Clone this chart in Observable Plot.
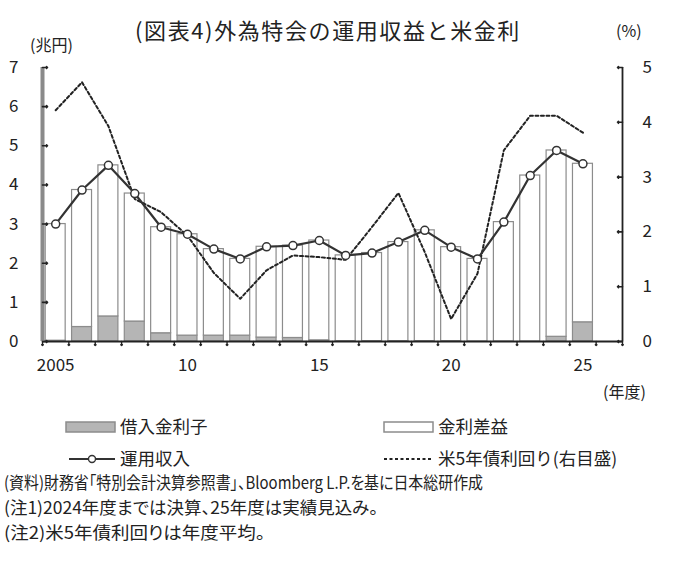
<!DOCTYPE html>
<html><head><meta charset="utf-8">
<script src="https://cdn.jsdelivr.net/npm/d3@7"></script>
<script src="https://cdn.jsdelivr.net/npm/@observablehq/plot@0.6"></script>
<style>
body{margin:0;background:#fff;font-family:"Noto Sans CJK JP","Noto Sans",sans-serif;color:#222;}
#wrap{position:relative;width:680px;}
.abs{position:absolute;white-space:nowrap;line-height:1;}
.note{font-feature-settings:"palt";transform-origin:0 50%;}
#chart svg{display:block;}
</style></head><body>
<div id="wrap">
  <div style="position:relative;height:50px;">
    <div class="abs" style="left:0;width:656px;text-align:center;top:18px;font-size:22px;letter-spacing:1.6px;">(図表4)外為特会の運用収益と米金利</div>
    <div class="abs" style="left:30px;top:36px;font-size:16px;">(兆円)</div>
    <div class="abs" style="left:616px;top:22px;font-size:16px;">(%)</div>
  </div>
  <div id="chart"></div>
  <div id="legend" style="position:relative;height:164px;"></div>
</div>
<script>
// ---- data ----
const years = [2005,2006,2007,2008,2009,2010,2011,2012,2013,2014,2015,2016,2017,2018,2019,2020,2021,2022,2023,2024,2025];
// 運用収入 (兆円)
const unyo = [3.00,3.87,4.50,3.78,2.92,2.74,2.36,2.11,2.42,2.45,2.58,2.20,2.26,2.54,2.84,2.41,2.11,3.05,4.24,4.88,4.54];
// 借入金利子 (兆円)
const kariire = [0.02,0.37,0.64,0.51,0.21,0.15,0.15,0.15,0.10,0.09,0.03,0.01,0.01,0.01,0.01,0.01,0.00,0.00,0.00,0.12,0.49];
// 米5年債利回り (%)
const yield5 = [4.22,4.73,3.93,2.60,2.36,1.93,1.25,0.78,1.30,1.57,1.54,1.49,2.09,2.71,1.63,0.41,1.24,3.49,4.12,4.12,3.81];
const xTickYears = [2005,2010,2015,2020,2025];
const xTickLabels = ["2005","10","15","20","25"];
const leftTicks = [0,1,2,3,4,5,6,7];
const rightTicks = [0,1,2,3,4,5];
const leftMax = 7, rightMax = 5;
const ratio = leftMax / rightMax;

const rows = years.map((year, i) => ({year, unyo: unyo[i], kariire: kariire[i], yld: yield5[i] * ratio}));
const xDomain = [years[0] - 0.5, years[years.length - 1] + 1.5];
const bounds = d3.range(xDomain[0], xDomain[1] + 0.01, 1);

const font = '"Noto Sans CJK JP","Noto Sans",sans-serif';
const chart = Plot.plot({
  width: 680, height: 355,
  marginTop: 17, marginBottom: 64, marginLeft: 42, marginRight: 58,
  x: {type: "linear", domain: xDomain},
  y: {domain: [0, leftMax]},
  style: {fontFamily: font, fontSize: "17px", color: "#222", background: "white"},
  marks: [
    Plot.rectY(rows, {x1: d => d.year - 0.5, x2: d => d.year + 0.5, y1: 0, y2: "kariire", fill: "#b5b5b5", stroke: "#8c8c8c", strokeWidth: 1.2, insetLeft: 3.2, insetRight: 3.2}),
    Plot.rectY(rows, {x1: d => d.year - 0.5, x2: d => d.year + 0.5, y1: "kariire", y2: "unyo", fill: "white", stroke: "#8c8c8c", strokeWidth: 1.2, insetLeft: 3.2, insetRight: 3.2}),
    Plot.ruleY([0], {stroke: "#222", strokeWidth: 1.8}),
    Plot.ruleX([xDomain[0]], {stroke: "#8a8a8a", strokeWidth: 4}),
    Plot.ruleX([xDomain[1]], {stroke: "#222", strokeWidth: 1.8}),
    Plot.vector(leftTicks, {y: d => d, frameAnchor: "left", length: 5, rotate: 90, anchor: "start", stroke: "#222", strokeWidth: 1.6}),
    Plot.vector(rightTicks, {y: d => d * ratio, frameAnchor: "right", length: 5, rotate: 270, anchor: "start", stroke: "#222", strokeWidth: 1.6}),
    Plot.vector(bounds, {x: d => d, frameAnchor: "bottom", length: 4, rotate: 180, anchor: "start", stroke: "#222", strokeWidth: 1.4}),
    Plot.axisY(leftTicks, {anchor: "left", tickSize: 0, tickPadding: 24, label: null, fontSize: 17}),
    Plot.axisY(rightTicks.map(d => d * ratio), {anchor: "right", tickSize: 0, tickPadding: 20, label: null, fontSize: 17, tickFormat: d => String(Math.round(d / ratio))}),
    Plot.axisX(xTickYears, {anchor: "bottom", tickSize: 0, tickPadding: 17, label: null, fontSize: 17, tickFormat: d => xTickLabels[xTickYears.indexOf(d)]}),
    Plot.line(rows, {x: "year", y: "yld", stroke: "#222", strokeWidth: 2, strokeDasharray: "3,2.5"}),
    Plot.line(rows, {x: "year", y: "unyo", stroke: "#333", strokeWidth: 2.2}),
    Plot.dot(rows, {x: "year", y: "unyo", r: 4, fill: "white", stroke: "#333", strokeWidth: 1.5}),
    Plot.text(["(年度)"], {text: d => d, frameAnchor: "bottom-right", dy: 56, dx: 2, fontSize: 16, textAnchor: "middle"})
  ]
});
document.getElementById("chart").append(chart);

// ---- legend & notes ----
const legendItems = [
  {label: "借入金利子", kind: "gray", left: 65, row: 0},
  {label: "金利差益", kind: "white", left: 383, row: 0},
  {label: "運用収入", kind: "line", left: 65, row: 1},
  {label: "米5年債利回り(右目盛)", kind: "dash", left: 383, row: 1}
];
const notes = [
  "(資料)財務省「特別会計決算参照書」、Bloomberg L.P.を基に日本総研作成",
  "(注1)2024年度までは決算、25年度は実績見込み。",
  "(注2)米5年債利回りは年度平均。"
];
const noteWidths = [479, 374, 261];
const lg = document.getElementById("legend");
const rowCenters = [21, 53];
legendItems.forEach(it => {
  const cy = rowCenters[it.row];
  let sw;
  if (it.kind === "gray" || it.kind === "white") {
    sw = `<svg width="52" height="14"><rect x="1" y="2" width="49" height="10" fill="${it.kind === "gray" ? "#b5b5b5" : "white"}" stroke="#8c8c8c" stroke-width="1.5"/></svg>`;
  } else if (it.kind === "line") {
    sw = `<svg width="52" height="14"><line x1="4" x2="50" y1="7" y2="7" stroke="#333" stroke-width="2"/><circle cx="27" cy="7" r="3.5" fill="white" stroke="#333" stroke-width="1.4"/></svg>`;
  } else {
    sw = `<svg width="52" height="14"><line x1="1" x2="48" y1="7" y2="7" stroke="#222" stroke-width="2" stroke-dasharray="3,2.5"/></svg>`;
  }
  const d = document.createElement("div");
  d.className = "abs";
  d.style.left = it.left + "px";
  d.style.top = (cy - 7) + "px";
  d.innerHTML = sw;
  lg.append(d);
  const t = document.createElement("div");
  t.className = "abs";
  t.style.left = (it.left + 55) + "px";
  t.style.top = (cy - 9) + "px";
  t.style.fontSize = "17.5px";
  t.textContent = it.label;
  lg.append(t);
});
const noteCenters = [77, 102, 127];
notes.forEach((n, i) => {
  const t = document.createElement("div");
  t.className = "abs note";
  t.style.left = "4px";
  t.style.top = (noteCenters[i] - 9) + "px";
  t.style.fontSize = "17px";
  t.textContent = n;
  lg.append(t);
  const w = t.getBoundingClientRect().width;
  if (w > 0) t.style.transform = `scaleX(${noteWidths[i] / w})`;
});
</script>
</body></html>
